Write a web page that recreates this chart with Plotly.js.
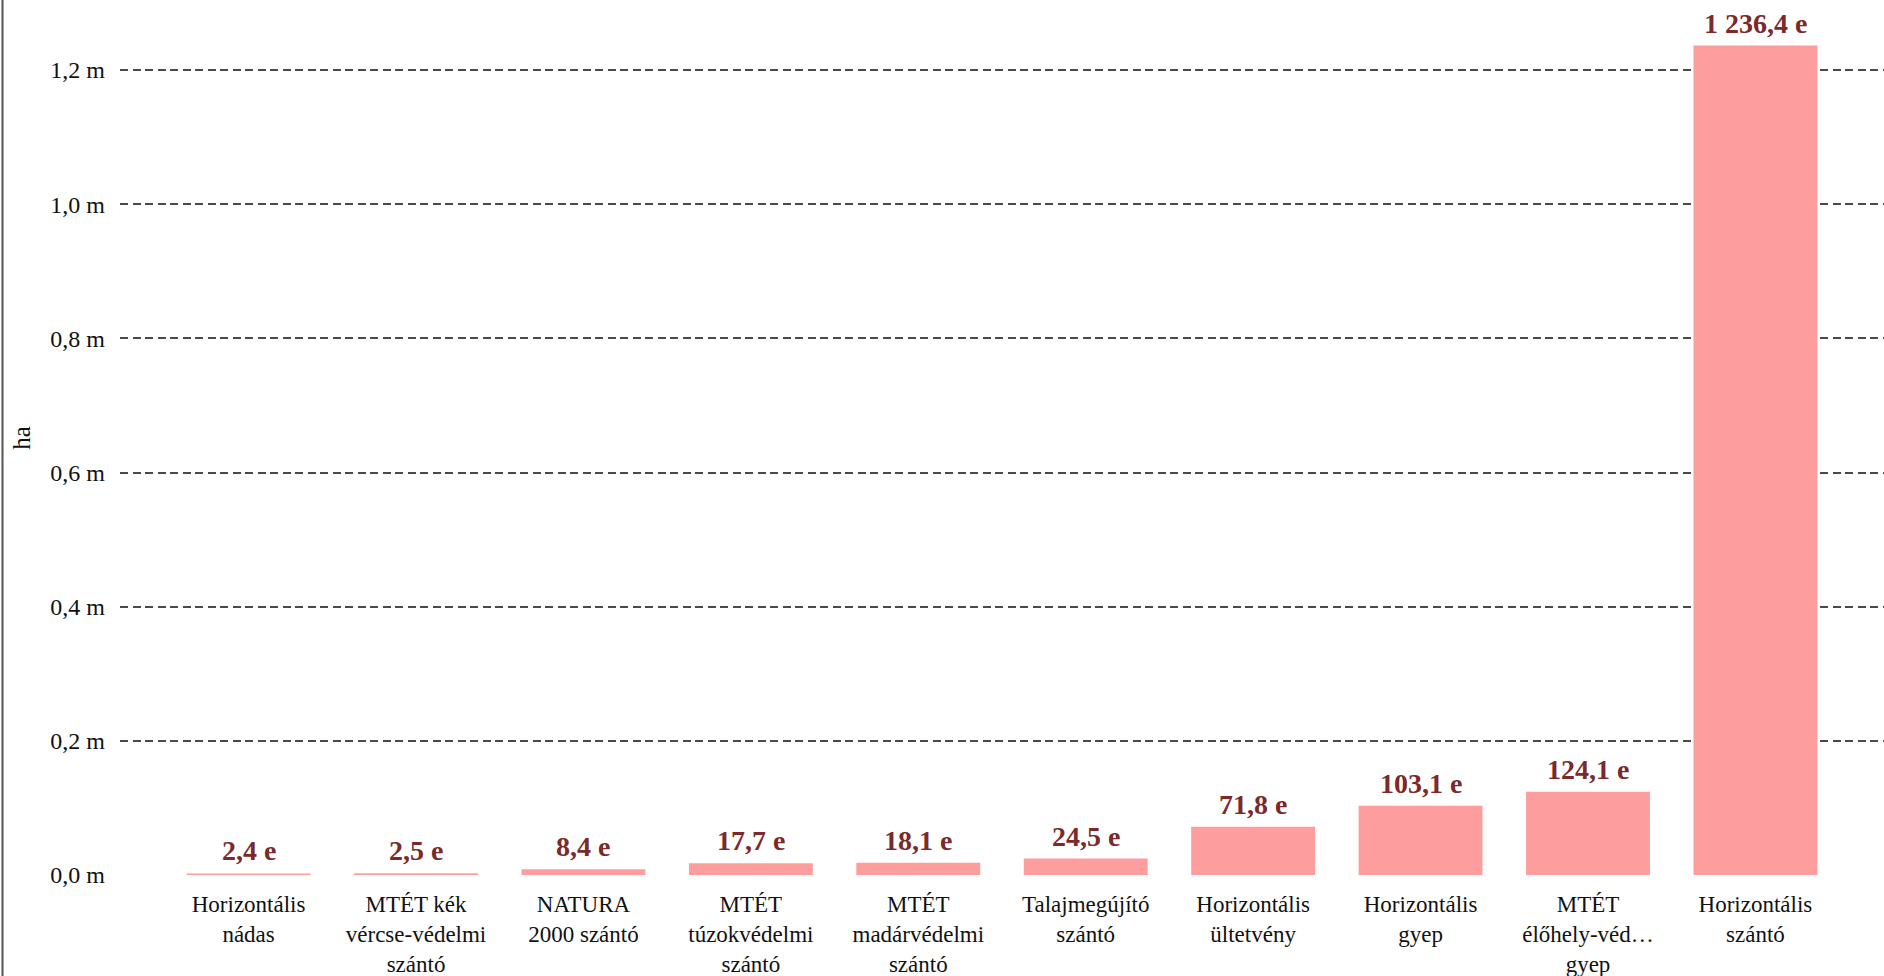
<!DOCTYPE html>
<html>
<head>
<meta charset="utf-8">
<script src="https://cdn.plot.ly/plotly-3.0.1.min.js"></script>
<style>
  html, body { margin: 0; padding: 0; background: #fff; }
  #chart { width: 1884px; height: 976px; }
</style>
</head>
<body>
<div id="chart"></div>
<script>
// Categories (x tick labels)
const categories = [
  "Horizontális<br>nádas",
  "MTÉT kék<br>vércse-védelmi<br>szántó",
  "NATURA<br>2000 szántó",
  "MTÉT<br>túzokvédelmi<br>szántó",
  "MTÉT<br>madárvédelmi<br>szántó",
  "Talajmegújító<br>szántó",
  "Horizontális<br>ültetvény",
  "Horizontális<br>gyep",
  "MTÉT<br>élőhely-véd…<br>gyep",
  "Horizontális<br>szántó"
];
// Area values in hectares
const areaHa = [2400, 2500, 8400, 17700, 18100, 24500, 71800, 103100, 124100, 1236400];
// Y axis ticks
const yTickVals = [0, 200000, 400000, 600000, 800000, 1000000, 1200000];
const yTickText = ["0,0 m", "0,2 m", "0,4 m", "0,6 m", "0,8 m", "1,0 m", "1,2 m"];

function fmtE(v) {
  const k = v / 1000;
  let s = k.toFixed(1).replace('.', ',');
  let [intPart, dec] = s.split(',');
  intPart = intPart.replace(/\B(?=(\d{3})+(?!\d))/g, ' ');
  return intPart + ',' + dec + ' e';
}

const xIdx = categories.map((_, i) => i);
const FONT = '"Liberation Serif", "Times New Roman", Times, serif';

const trace = {
  type: 'bar',
  x: xIdx,
  y: areaHa,
  width: 0.74,
  marker: { color: '#fd9d9d', line: { width: 0 } },
  hoverinfo: 'skip'
};

const annotations = areaHa.map((v, i) => ({
  x: i, y: v, xref: 'x', yref: 'y',
  text: '<b>' + fmtE(v) + '</b>',
  showarrow: false,
  yanchor: 'bottom',
  xanchor: 'center',
  yshift: 5,
  font: { family: FONT, size: 28, color: '#7b2a2c' }
}));

const layout = {
  width: 1884,
  height: 976,
  margin: { l: 120, r: 0, t: 0, b: 100, pad: 0 },
  paper_bgcolor: '#ffffff',
  plot_bgcolor: '#ffffff',
  showlegend: false,
  font: { family: FONT, color: '#111' },
  xaxis: {
    type: 'linear',
    range: [-0.768, 9.768],
    tickvals: xIdx,
    ticktext: categories,
    tickfont: { family: FONT, size: 23, color: '#111' },
    showgrid: false,
    zeroline: false,
    showline: false,
    ticks: '',
    ticklabelstandoff: 12,
    automargin: false,
    fixedrange: true
  },
  yaxis: {
    range: [-1491, 1304348],
    tickvals: yTickVals,
    ticktext: yTickText,
    tickfont: { family: FONT, size: 24, color: '#111' },
    showgrid: true,
    gridcolor: '#4a4a4a',
    gridwidth: 2,
    griddash: '8px,4.5px',
    zeroline: false,
    showline: false,
    ticks: '',
    ticklabelstandoff: 14,
    automargin: false,
    title: { text: 'ha', font: { family: FONT, size: 25, color: '#111' }, standoff: 12 },
    fixedrange: true
  },
  annotations: annotations,
  shapes: [{
    type: 'line', xref: 'paper', yref: 'paper',
    x0: -117.5 / 1764, x1: -117.5 / 1764,
    y0: -100 / 876, y1: 1,
    line: { color: '#555', width: 2 },
    layer: 'above'
  }]
};

Plotly.newPlot('chart', [trace], layout, { displayModeBar: false, staticPlot: true });
</script>
</body>
</html>
